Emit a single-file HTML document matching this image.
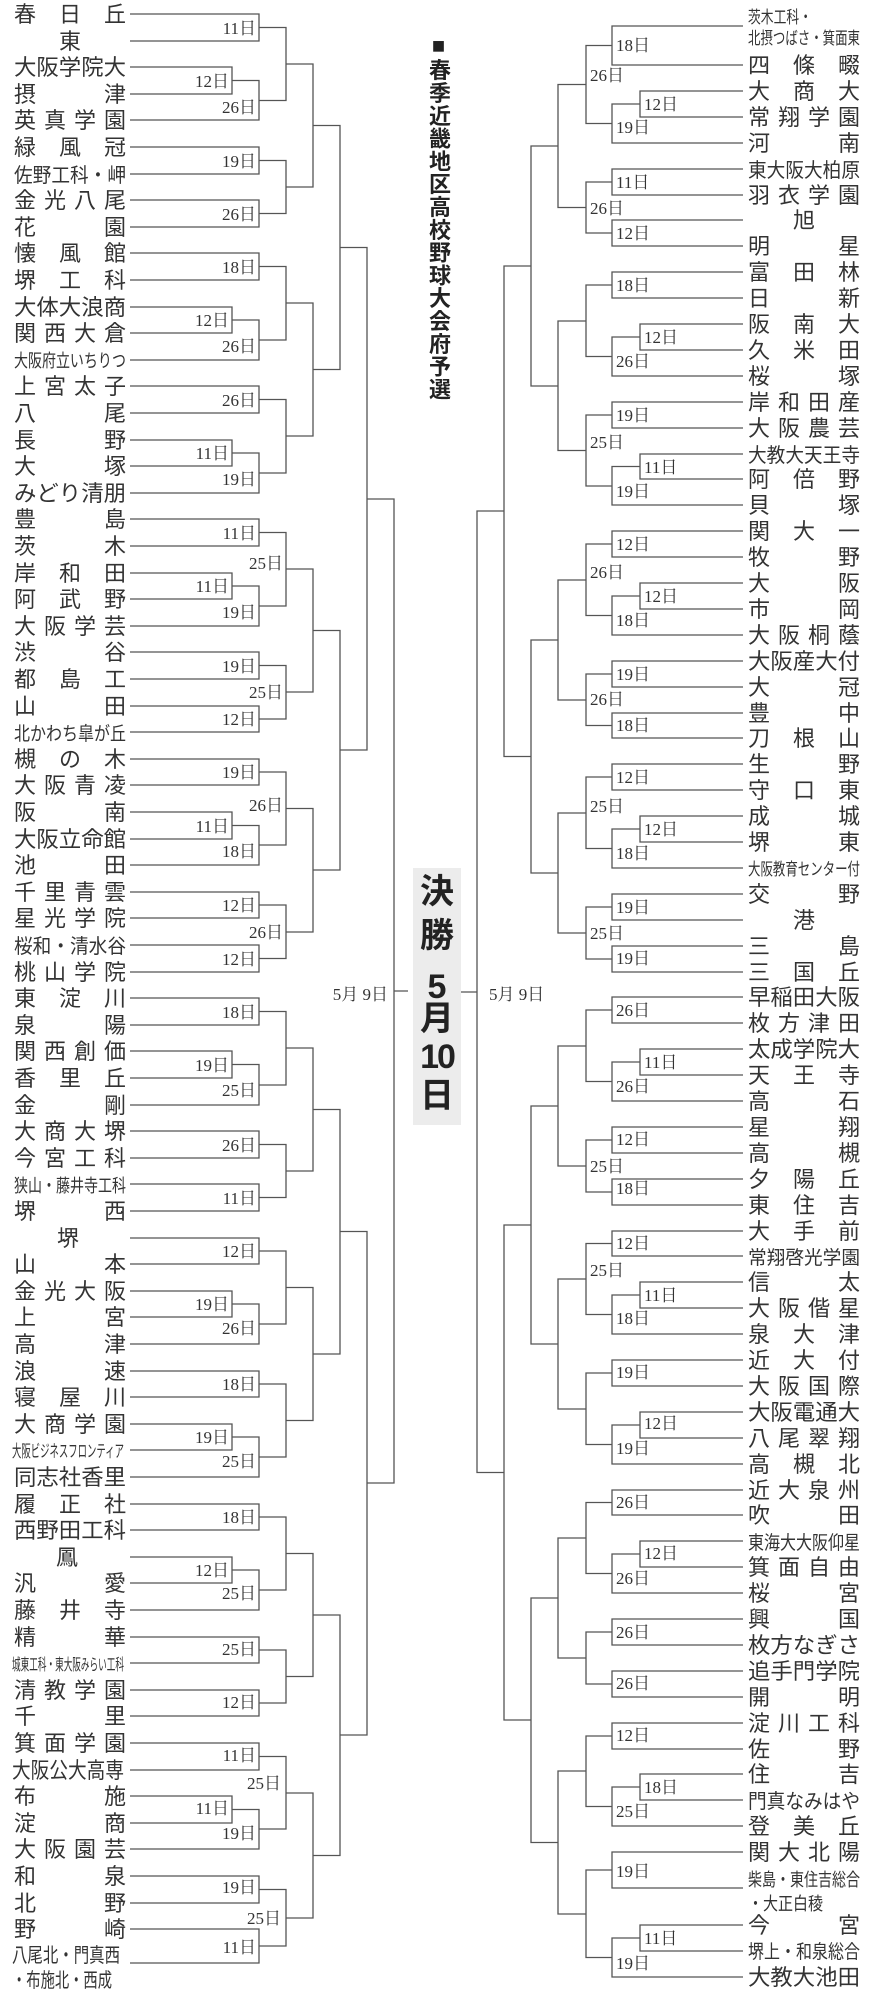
<!DOCTYPE html>
<html><head><meta charset="utf-8">
<style>
html,body{margin:0;padding:0;background:#fff;}
#w{position:relative;width:872px;height:2000px;overflow:hidden;background:#fff;}
svg{position:absolute;left:0;top:0;}
.n{font-family:"Liberation Sans","Noto Sans CJK JP",sans-serif;font-size:22px;fill:#333;}
.d{font-family:"Liberation Serif","Noto Serif CJK SC",serif;font-size:17px;fill:#333;}
.e{text-anchor:end;}
.m{text-anchor:middle;}
#title{position:absolute;left:426px;top:33px;width:24px;writing-mode:vertical-rl;font-family:"Liberation Sans","Noto Sans CJK JP",sans-serif;font-size:22px;font-weight:bold;letter-spacing:0.8px;color:#222;line-height:24px;}
#fin{position:absolute;left:413px;top:868px;width:48px;height:257px;background:#ececec;}
.f{position:absolute;width:48px;text-align:center;font-family:"Liberation Sans","Noto Sans CJK JP",sans-serif;font-size:34px;font-weight:bold;color:#222;line-height:36px;}
</style></head><body><div id="w">
<svg width="872" height="2000" viewBox="0 0 872 2000">
<g fill="none" stroke="#555" stroke-width="1.3">
<path d="M130,14H259V41H130M130,67H232V94H130M232,80.5H259V120H130M259,27.5H286V100.5H259
M130,147H259V174H130M130,200H259V227H130M259,160.5H286V213.5H259M286,64H313V187H286
M130,253H259V280H130M130,307H232V333H130M232,320H259V360H130M259,266.5H286V340H259
M130,386H259V413H130M130,440H232V466H130M232,453H259V493H130M259,399.5H286V473H259M286,303H313V436H286M313,125.5H340V369.5H313
M130,519H259V546H130M130,573H232V599H130M232,586H259V626H130M259,532.5H286V606H259M130,652H259V679H130M130,706H259V732H130M259,665.5H286V719H259M286,569H313V692H286
M130,759H259V785H130M130,812H232V839H130M232,825.5H259V865H130M259,772H286V845H259M130,892H259V918H130M130,945H259V972H130M259,905H286V958.5H259M286,808.5H313V932H286M313,630.5H340V870H313M340,247.5H367V750H340
M130,998H259V1025H130M130,1051H232V1078H130M232,1064.5H259V1105H130M259,1011.5H286V1085H259
M130,1131H259V1158H130M130,1184H259V1211H130M259,1144.5H286V1197.5H259M286,1048H313V1171H286
M130,1238H259V1264H130M130,1291H232V1317H130M232,1304H259V1344H130M259,1251H286V1324H259M130,1371H259V1397H130M130,1424H232V1450H130M232,1437H259V1477H130M259,1384H286V1457H259M286,1287.5H313V1420.5H286M313,1109.5H340V1354H313
M130,1504H259V1530H130M130,1557H232V1583H130M232,1570H259V1610H130M259,1517H286V1590H259M130,1637H259V1663H130M130,1690H259V1716H130M259,1650H286V1703H259M286,1553.5H313V1676.5H286
M130,1743H259V1770H130M130,1796H232V1823H130M232,1809.5H259V1849H130M259,1756.5H286V1829H259M130,1876H259V1903H130M130,1929H259V1963H130M259,1889.5H286V1946H259M286,1793H313V1918H286M313,1615H340V1855.5H313M340,1231.5H367V1735H340
M367,499H394V1483H367M394,991H408"/>
<path d="M743,26H612V65H743M743,91H640V117H743M640,104H612V143H743M612,45.5H586V123.5H612
M743,169H612V195H743M743,220H612V246H743M612,182H586V233H612M586,84.5H558V207.5H586
M743,272H612V298H743M743,324H640V350H743M640,337H612V376H743M612,285H586V356.5H612
M743,402H612V428H743M743,454H640V479H743M640,466.5H612V505H743M612,415H586V486H612M586,321H558V450.5H586M558,146H531V386H558
M743,531H612V557H743M743,583H640V609H743M640,596H612V635H743M612,544H586V615.5H612
M743,661H612V687H743M743,713H612V738H743M612,674H586V725.5H612M586,580H558V700H586
M743,764H612V790H743M743,816H640V842H743M640,829H612V868H743M612,777H586V848.5H612
M743,894H612V920H743M743,946H612V972H743M612,907H586V959H612M586,813H558V933H586M558,640H531V873H558M531,266H504V756.5H531
M743,997H612V1023H743M743,1049H640V1075H743M640,1062H612V1101H743M612,1010H586V1081.5H612
M743,1127H612V1153H743M743,1179H612V1205H743M612,1140H586V1192H612M586,1046H558V1166H586
M743,1231H612V1256H743M743,1282H640V1308H743M640,1295H612V1334H743M612,1243.5H586V1314.5H612
M743,1360H612V1386H743M743,1412H640V1438H743M640,1425H612V1464H743M612,1373H586V1444.5H612M586,1279H558V1409H586M558,1106H531V1344H558
M743,1490H612V1515H743M743,1541H640V1567H743M640,1554H612V1593H743M612,1502.5H586V1573.5H612
M743,1619H612V1645H743M743,1671H612V1697H743M612,1632H586V1684H612M586,1538H558V1658H586
M743,1723H612V1749H743M743,1774H640V1800H743M640,1787H612V1826H743M612,1736H586V1806.5H612
M743,1852H612V1888H743M743,1925H640V1951H743M640,1938H612V1977H743M612,1870H586V1957.5H612M586,1771H558V1914H586M558,1598H531V1842.5H558M531,1225H504V1720H531
M504,511H477V1472.5H504M477,992H461"/>
</g>
<!-- left names -->
<g class="n">
<text x="14" y="22" textLength="112" lengthAdjust="spacing">春日丘</text>
<text x="70" y="49" class="n m">東</text>
<text x="14" y="75" textLength="112" lengthAdjust="spacingAndGlyphs">大阪学院大</text>
<text x="14" y="102" textLength="112" lengthAdjust="spacing">摂津</text>
<text x="14" y="128" textLength="112" lengthAdjust="spacing">英真学園</text>
<text x="14" y="155" textLength="112" lengthAdjust="spacing">緑風冠</text>
<text x="14" y="182" textLength="112" lengthAdjust="spacingAndGlyphs" style="font-size:20px">佐野工科・岬</text>
<text x="14" y="208" textLength="112" lengthAdjust="spacing">金光八尾</text>
<text x="14" y="235" textLength="112" lengthAdjust="spacing">花園</text>
<text x="14" y="261" textLength="112" lengthAdjust="spacing">懐風館</text>
<text x="14" y="288" textLength="112" lengthAdjust="spacing">堺工科</text>
<text x="14" y="315" textLength="112" lengthAdjust="spacingAndGlyphs">大体大浪商</text>
<text x="14" y="341" textLength="112" lengthAdjust="spacing">関西大倉</text>
<text x="14" y="367" textLength="112" lengthAdjust="spacingAndGlyphs" style="font-size:18px">大阪府立いちりつ</text>
<text x="14" y="394" textLength="112" lengthAdjust="spacing">上宮太子</text>
<text x="14" y="421" textLength="112" lengthAdjust="spacing">八尾</text>
<text x="14" y="448" textLength="112" lengthAdjust="spacing">長野</text>
<text x="14" y="474" textLength="112" lengthAdjust="spacing">大塚</text>
<text x="14" y="501" textLength="112" lengthAdjust="spacingAndGlyphs">みどり清朋</text>
<text x="14" y="527" textLength="112" lengthAdjust="spacing">豊島</text>
<text x="14" y="554" textLength="112" lengthAdjust="spacing">茨木</text>
<text x="14" y="581" textLength="112" lengthAdjust="spacing">岸和田</text>
<text x="14" y="607" textLength="112" lengthAdjust="spacing">阿武野</text>
<text x="14" y="634" textLength="112" lengthAdjust="spacing">大阪学芸</text>
<text x="14" y="660" textLength="112" lengthAdjust="spacing">渋谷</text>
<text x="14" y="687" textLength="112" lengthAdjust="spacing">都島工</text>
<text x="14" y="714" textLength="112" lengthAdjust="spacing">山田</text>
<text x="14" y="740" textLength="112" lengthAdjust="spacingAndGlyphs" style="font-size:19px">北かわち皐が丘</text>
<text x="14" y="767" textLength="112" lengthAdjust="spacing">槻の木</text>
<text x="14" y="793" textLength="112" lengthAdjust="spacing">大阪青凌</text>
<text x="14" y="820" textLength="112" lengthAdjust="spacing">阪南</text>
<text x="14" y="847" textLength="112" lengthAdjust="spacingAndGlyphs">大阪立命館</text>
<text x="14" y="873" textLength="112" lengthAdjust="spacing">池田</text>
<text x="14" y="900" textLength="112" lengthAdjust="spacing">千里青雲</text>
<text x="14" y="926" textLength="112" lengthAdjust="spacing">星光学院</text>
<text x="14" y="953" textLength="112" lengthAdjust="spacingAndGlyphs" style="font-size:20px">桜和・清水谷</text>
<text x="14" y="980" textLength="112" lengthAdjust="spacing">桃山学院</text>
<text x="14" y="1006" textLength="112" lengthAdjust="spacing">東淀川</text>
<text x="14" y="1033" textLength="112" lengthAdjust="spacing">泉陽</text>
<text x="14" y="1059" textLength="112" lengthAdjust="spacing">関西創価</text>
<text x="14" y="1086" textLength="112" lengthAdjust="spacing">香里丘</text>
<text x="14" y="1113" textLength="112" lengthAdjust="spacing">金剛</text>
<text x="14" y="1139" textLength="112" lengthAdjust="spacing">大商大堺</text>
<text x="14" y="1166" textLength="112" lengthAdjust="spacing">今宮工科</text>
<text x="14" y="1192" textLength="112" lengthAdjust="spacingAndGlyphs" style="font-size:18px">狭山・藤井寺工科</text>
<text x="14" y="1219" textLength="112" lengthAdjust="spacing">堺西</text>
<text x="68" y="1246" class="n m">堺</text>
<text x="14" y="1272" textLength="112" lengthAdjust="spacing">山本</text>
<text x="14" y="1299" textLength="112" lengthAdjust="spacing">金光大阪</text>
<text x="14" y="1325" textLength="112" lengthAdjust="spacing">上宮</text>
<text x="14" y="1352" textLength="112" lengthAdjust="spacing">高津</text>
<text x="14" y="1379" textLength="112" lengthAdjust="spacing">浪速</text>
<text x="14" y="1405" textLength="112" lengthAdjust="spacing">寝屋川</text>
<text x="14" y="1432" textLength="112" lengthAdjust="spacing">大商学園</text>
<text x="12" y="1457" textLength="112" lengthAdjust="spacingAndGlyphs" style="font-size:17px">大阪ビジネスフロンティア</text>
<text x="14" y="1485" textLength="112" lengthAdjust="spacingAndGlyphs">同志社香里</text>
<text x="14" y="1512" textLength="112" lengthAdjust="spacing">履正社</text>
<text x="14" y="1538" textLength="112" lengthAdjust="spacingAndGlyphs">西野田工科</text>
<text x="67" y="1565" class="n m">鳳</text>
<text x="14" y="1591" textLength="112" lengthAdjust="spacing">汎愛</text>
<text x="14" y="1618" textLength="112" lengthAdjust="spacing">藤井寺</text>
<text x="14" y="1645" textLength="112" lengthAdjust="spacing">精華</text>
<text x="12" y="1670" textLength="112" lengthAdjust="spacingAndGlyphs" style="font-size:16px">城東工科・東大阪みらい工科</text>
<text x="14" y="1698" textLength="112" lengthAdjust="spacing">清教学園</text>
<text x="14" y="1724" textLength="112" lengthAdjust="spacing">千里</text>
<text x="14" y="1751" textLength="112" lengthAdjust="spacing">箕面学園</text>
<text x="12" y="1778" textLength="112" lengthAdjust="spacingAndGlyphs">大阪公大高専</text>
<text x="14" y="1804" textLength="112" lengthAdjust="spacing">布施</text>
<text x="14" y="1831" textLength="112" lengthAdjust="spacing">淀商</text>
<text x="14" y="1857" textLength="112" lengthAdjust="spacing">大阪園芸</text>
<text x="14" y="1884" textLength="112" lengthAdjust="spacing">和泉</text>
<text x="14" y="1911" textLength="112" lengthAdjust="spacing">北野</text>
<text x="14" y="1937" textLength="112" lengthAdjust="spacing">野崎</text>
<text x="12" y="1962" textLength="108" lengthAdjust="spacingAndGlyphs" style="font-size:20px">八尾北・門真西</text>
<text x="12" y="1987" textLength="100" lengthAdjust="spacingAndGlyphs" style="font-size:20px">・布施北・西成</text>
</g>
<!-- right names -->
<g class="n">
<text x="748" y="23" textLength="64" lengthAdjust="spacingAndGlyphs" style="font-size:17px">茨木工科・</text>
<text x="748" y="44" textLength="112" lengthAdjust="spacingAndGlyphs" style="font-size:17px">北摂つばさ・箕面東</text>
<text x="748" y="73" textLength="112" lengthAdjust="spacing">四條畷</text>
<text x="748" y="99" textLength="112" lengthAdjust="spacing">大商大</text>
<text x="748" y="125" textLength="112" lengthAdjust="spacing">常翔学園</text>
<text x="748" y="151" textLength="112" lengthAdjust="spacing">河南</text>
<text x="748" y="177" textLength="112" lengthAdjust="spacingAndGlyphs" style="font-size:20px">東大阪大柏原</text>
<text x="748" y="203" textLength="112" lengthAdjust="spacing">羽衣学園</text>
<text x="804" y="228" class="n m">旭</text>
<text x="748" y="254" textLength="112" lengthAdjust="spacing">明星</text>
<text x="748" y="280" textLength="112" lengthAdjust="spacing">富田林</text>
<text x="748" y="306" textLength="112" lengthAdjust="spacing">日新</text>
<text x="748" y="332" textLength="112" lengthAdjust="spacing">阪南大</text>
<text x="748" y="358" textLength="112" lengthAdjust="spacing">久米田</text>
<text x="748" y="384" textLength="112" lengthAdjust="spacing">桜塚</text>
<text x="748" y="410" textLength="112" lengthAdjust="spacing">岸和田産</text>
<text x="748" y="436" textLength="112" lengthAdjust="spacing">大阪農芸</text>
<text x="748" y="462" textLength="112" lengthAdjust="spacingAndGlyphs" style="font-size:20px">大教大天王寺</text>
<text x="748" y="487" textLength="112" lengthAdjust="spacing">阿倍野</text>
<text x="748" y="513" textLength="112" lengthAdjust="spacing">貝塚</text>
<text x="748" y="539" textLength="112" lengthAdjust="spacing">関大一</text>
<text x="748" y="565" textLength="112" lengthAdjust="spacing">牧野</text>
<text x="748" y="591" textLength="112" lengthAdjust="spacing">大阪</text>
<text x="748" y="617" textLength="112" lengthAdjust="spacing">市岡</text>
<text x="748" y="643" textLength="112" lengthAdjust="spacing">大阪桐蔭</text>
<text x="748" y="669" textLength="112" lengthAdjust="spacingAndGlyphs">大阪産大付</text>
<text x="748" y="695" textLength="112" lengthAdjust="spacing">大冠</text>
<text x="748" y="721" textLength="112" lengthAdjust="spacing">豊中</text>
<text x="748" y="746" textLength="112" lengthAdjust="spacing">刀根山</text>
<text x="748" y="772" textLength="112" lengthAdjust="spacing">生野</text>
<text x="748" y="798" textLength="112" lengthAdjust="spacing">守口東</text>
<text x="748" y="824" textLength="112" lengthAdjust="spacing">成城</text>
<text x="748" y="850" textLength="112" lengthAdjust="spacing">堺東</text>
<text x="748" y="875" textLength="112" lengthAdjust="spacingAndGlyphs" style="font-size:17px">大阪教育センター付</text>
<text x="748" y="902" textLength="112" lengthAdjust="spacing">交野</text>
<text x="804" y="928" class="n m">港</text>
<text x="748" y="954" textLength="112" lengthAdjust="spacing">三島</text>
<text x="748" y="980" textLength="112" lengthAdjust="spacing">三国丘</text>
<text x="748" y="1005" textLength="112" lengthAdjust="spacingAndGlyphs">早稲田大阪</text>
<text x="748" y="1031" textLength="112" lengthAdjust="spacing">枚方津田</text>
<text x="748" y="1057" textLength="112" lengthAdjust="spacingAndGlyphs">太成学院大</text>
<text x="748" y="1083" textLength="112" lengthAdjust="spacing">天王寺</text>
<text x="748" y="1109" textLength="112" lengthAdjust="spacing">高石</text>
<text x="748" y="1135" textLength="112" lengthAdjust="spacing">星翔</text>
<text x="748" y="1161" textLength="112" lengthAdjust="spacing">高槻</text>
<text x="748" y="1187" textLength="112" lengthAdjust="spacing">夕陽丘</text>
<text x="748" y="1213" textLength="112" lengthAdjust="spacing">東住吉</text>
<text x="748" y="1239" textLength="112" lengthAdjust="spacing">大手前</text>
<text x="748" y="1264" textLength="112" lengthAdjust="spacingAndGlyphs" style="font-size:19px">常翔啓光学園</text>
<text x="748" y="1290" textLength="112" lengthAdjust="spacing">信太</text>
<text x="748" y="1316" textLength="112" lengthAdjust="spacing">大阪偕星</text>
<text x="748" y="1342" textLength="112" lengthAdjust="spacing">泉大津</text>
<text x="748" y="1368" textLength="112" lengthAdjust="spacing">近大付</text>
<text x="748" y="1394" textLength="112" lengthAdjust="spacing">大阪国際</text>
<text x="748" y="1420" textLength="112" lengthAdjust="spacingAndGlyphs">大阪電通大</text>
<text x="748" y="1446" textLength="112" lengthAdjust="spacing">八尾翠翔</text>
<text x="748" y="1472" textLength="112" lengthAdjust="spacing">高槻北</text>
<text x="748" y="1498" textLength="112" lengthAdjust="spacing">近大泉州</text>
<text x="748" y="1523" textLength="112" lengthAdjust="spacing">吹田</text>
<text x="748" y="1549" textLength="112" lengthAdjust="spacingAndGlyphs" style="font-size:19px">東海大大阪仰星</text>
<text x="748" y="1575" textLength="112" lengthAdjust="spacing">箕面自由</text>
<text x="748" y="1601" textLength="112" lengthAdjust="spacing">桜宮</text>
<text x="748" y="1627" textLength="112" lengthAdjust="spacing">興国</text>
<text x="748" y="1653" textLength="112" lengthAdjust="spacingAndGlyphs">枚方なぎさ</text>
<text x="748" y="1679" textLength="112" lengthAdjust="spacingAndGlyphs">追手門学院</text>
<text x="748" y="1705" textLength="112" lengthAdjust="spacing">開明</text>
<text x="748" y="1731" textLength="112" lengthAdjust="spacing">淀川工科</text>
<text x="748" y="1757" textLength="112" lengthAdjust="spacing">佐野</text>
<text x="748" y="1782" textLength="112" lengthAdjust="spacing">住吉</text>
<text x="748" y="1808" textLength="112" lengthAdjust="spacingAndGlyphs" style="font-size:20px">門真なみはや</text>
<text x="748" y="1834" textLength="112" lengthAdjust="spacing">登美丘</text>
<text x="748" y="1860" textLength="112" lengthAdjust="spacing">関大北陽</text>
<text x="748" y="1886" textLength="112" lengthAdjust="spacingAndGlyphs" style="font-size:18px">柴島・東住吉総合</text>
<text x="748" y="1910" textLength="75" lengthAdjust="spacingAndGlyphs" style="font-size:18px">・大正白稜</text>
<text x="748" y="1933" textLength="112" lengthAdjust="spacing">今宮</text>
<text x="748" y="1958" textLength="112" lengthAdjust="spacingAndGlyphs" style="font-size:19px">堺上・和泉総合</text>
<text x="748" y="1985" textLength="112" lengthAdjust="spacingAndGlyphs">大教大池田</text>
</g>
<!-- left day labels -->
<g class="d e">
<text x="256" y="34">11日</text><text x="229" y="87">12日</text><text x="256" y="113">26日</text>
<text x="256" y="167">19日</text><text x="256" y="220">26日</text>
<text x="256" y="273">18日</text><text x="229" y="326">12日</text><text x="256" y="352">26日</text>
<text x="256" y="406">26日</text><text x="229" y="459">11日</text><text x="256" y="485">19日</text>
<text x="256" y="539">11日</text><text x="229" y="592">11日</text><text x="256" y="618">19日</text><text x="283" y="569">25日</text>
<text x="256" y="672">19日</text><text x="256" y="725">12日</text><text x="283" y="698">25日</text>
<text x="256" y="778">19日</text><text x="229" y="832">11日</text><text x="256" y="857">18日</text><text x="283" y="811">26日</text>
<text x="256" y="911">12日</text><text x="256" y="965">12日</text><text x="283" y="938">26日</text>
<text x="256" y="1018">18日</text><text x="229" y="1071">19日</text><text x="256" y="1096">25日</text>
<text x="256" y="1151">26日</text><text x="256" y="1204">11日</text>
<text x="256" y="1257">12日</text><text x="229" y="1310">19日</text><text x="256" y="1334">26日</text>
<text x="256" y="1390">18日</text><text x="229" y="1443">19日</text><text x="256" y="1467">25日</text>
<text x="256" y="1523">18日</text><text x="229" y="1576">12日</text><text x="256" y="1599">25日</text>
<text x="256" y="1655">25日</text><text x="256" y="1708">12日</text>
<text x="256" y="1761">11日</text><text x="281" y="1789">25日</text><text x="229" y="1814">11日</text><text x="256" y="1839">19日</text>
<text x="256" y="1893">19日</text><text x="281" y="1924">25日</text><text x="256" y="1953">11日</text>
<text x="388" y="1000">5月 9日</text>
</g>
<!-- right day labels -->
<g class="d">
<text x="616" y="51">18日</text><text x="644" y="110">12日</text><text x="616" y="133">19日</text><text x="590" y="81">26日</text>
<text x="616" y="188">11日</text><text x="616" y="239">12日</text><text x="590" y="214">26日</text>
<text x="616" y="291">18日</text><text x="644" y="343">12日</text><text x="616" y="367">26日</text>
<text x="616" y="421">19日</text><text x="590" y="448">25日</text><text x="644" y="473">11日</text><text x="616" y="497">19日</text>
<text x="616" y="550">12日</text><text x="590" y="578">26日</text><text x="644" y="602">12日</text><text x="616" y="626">18日</text>
<text x="616" y="680">19日</text><text x="590" y="705">26日</text><text x="616" y="731">18日</text>
<text x="616" y="783">12日</text><text x="590" y="812">25日</text><text x="644" y="835">12日</text><text x="616" y="859">18日</text>
<text x="616" y="913">19日</text><text x="590" y="939">25日</text><text x="616" y="964">19日</text>
<text x="616" y="1016">26日</text><text x="644" y="1068">11日</text><text x="616" y="1092">26日</text>
<text x="616" y="1145">12日</text><text x="590" y="1172">25日</text><text x="616" y="1194">18日</text>
<text x="616" y="1249">12日</text><text x="590" y="1276">25日</text><text x="644" y="1301">11日</text><text x="616" y="1324">18日</text>
<text x="616" y="1378">19日</text><text x="644" y="1429">12日</text><text x="616" y="1454">19日</text>
<text x="616" y="1508">26日</text><text x="644" y="1559">12日</text><text x="616" y="1584">26日</text>
<text x="616" y="1638">26日</text><text x="616" y="1689">26日</text>
<text x="616" y="1741">12日</text><text x="644" y="1793">18日</text><text x="616" y="1817">25日</text>
<text x="616" y="1877">19日</text><text x="644" y="1944">11日</text><text x="616" y="1969">19日</text>
<text x="489" y="1000">5月 9日</text>
</g>
</svg>
<div id="title">■春季近畿地区高校野球大会府予選</div>
<div id="fin">
<div class="f" style="top:6px">決</div>
<div class="f" style="top:50px">勝</div>
<div class="f" style="top:101px">5</div>
<div class="f" style="top:133px">月</div>
<div class="f" style="top:171px;letter-spacing:-2px">10</div>
<div class="f" style="top:210px">日</div>
</div>
</div></body></html>
